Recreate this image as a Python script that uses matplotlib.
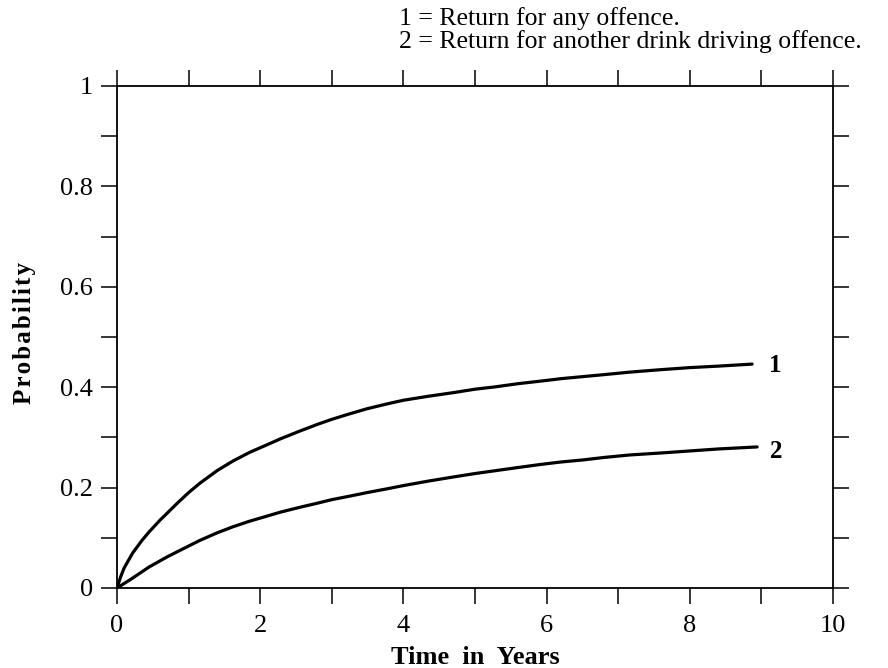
import numpy as np
import matplotlib
matplotlib.use('Agg')
import matplotlib.pyplot as plt
from matplotlib.ticker import FixedLocator, FuncFormatter

plt.rcParams['font.family'] = ['Liberation Serif', 'DejaVu Serif']

# curve 1 = return for any offence, curve 2 = another drink driving offence
years_1 = [0, 0.05, 0.1, 0.22, 0.35, 0.45, 0.6, 0.7, 0.85, 1.0, 1.16, 1.4, 1.62,
           1.85, 2.09, 2.28, 2.56, 2.8, 3.0, 3.25, 3.49, 3.75, 4.0, 4.35, 4.69,
           5.0, 5.3, 5.6, 5.91, 6.2, 6.5, 6.8, 7.16, 7.6, 8.0, 8.4, 8.87]
prob_1 = [0, 0.022, 0.04, 0.07, 0.095, 0.112, 0.135, 0.149, 0.17, 0.19, 0.209, 0.234, 0.253,
          0.27, 0.285, 0.297, 0.313, 0.326, 0.336, 0.347, 0.357, 0.366, 0.374, 0.382, 0.389,
          0.396, 0.401, 0.407, 0.412, 0.417, 0.421, 0.425, 0.430, 0.435, 0.439, 0.442, 0.446]
years_2 = [0, 0.2, 0.45, 0.7, 0.95, 1.16, 1.4, 1.62, 1.85, 2.09, 2.28, 2.56, 2.8,
           3.0, 3.25, 3.49, 3.75, 4.0, 4.35, 4.69, 5.0, 5.3, 5.6, 5.91, 6.2, 6.5,
           6.8, 7.16, 7.6, 8.0, 8.4, 8.94]
prob_2 = [0, 0.018, 0.042, 0.062, 0.08, 0.095, 0.11, 0.122, 0.133, 0.143, 0.151, 0.161, 0.169,
          0.176, 0.183, 0.19, 0.197, 0.204, 0.213, 0.221, 0.228, 0.234, 0.240, 0.246, 0.251, 0.255,
          0.26, 0.265, 0.269, 0.273, 0.277, 0.281]

xticks = list(range(0, 11))
yticks = [i / 10 for i in range(0, 11)]
ylabels = {0: '0', 2: '0.2', 4: '0.4', 6: '0.6', 8: '0.8', 10: '1'}

fig = plt.figure(figsize=(8.88, 6.68), dpi=100)
ax = fig.add_axes([117/888, 1-588/668, 716/888, 502/668])

ax.plot(years_1, prob_1, color='black', lw=2.3, solid_capstyle='round', solid_joinstyle='round')
ax.plot(years_2, prob_2, color='black', lw=2.3, solid_capstyle='round', solid_joinstyle='round')
ax.text(9.1, 0.444, '1', fontsize=18, fontweight='bold', va='center', ha='left')
ax.text(9.12, 0.271, '2', fontsize=18, fontweight='bold', va='center', ha='left')

ax.set_xlim(0, 10)
ax.set_ylim(0, 1)
ax.xaxis.set_major_locator(FixedLocator(xticks))
ax.yaxis.set_major_locator(FixedLocator(yticks))
ax.xaxis.set_major_formatter(FuncFormatter(lambda v, p: str(int(round(v))) if int(round(v)) % 2 == 0 else ''))
ax.yaxis.set_major_formatter(FuncFormatter(lambda v, p: ylabels.get(int(round(v * 10)), '')))
ax.tick_params(axis='both', which='major', direction='out', length=11.5, width=1.1,
               labelsize=19, top=True, right=True)
ax.tick_params(axis='x', pad=8)
ax.tick_params(axis='y', pad=6)
for s in ax.spines.values():
    s.set_linewidth(1.3)

ax.set_xlabel('Time  in  Years', fontsize=19, fontweight='bold')
ax.xaxis.set_label_coords(0.5, -0.115)
ax.set_ylabel('P\u200ar\u200ao\u200ab\u200aa\u200ab\u200ai\u200al\u200ai\u200at\u200ay', fontsize=18, fontweight='bold')
ax.yaxis.set_label_coords(-0.113, 0.508)

fig.text(399/888, 1-19/668, '1 = Return for any offence.', fontsize=18.5, va='center', ha='left')
fig.text(399/888, 1-42/668, '2 = Return for another drink driving offence.', fontsize=18.5, va='center', ha='left')

fig.savefig('out.png', dpi=100)
